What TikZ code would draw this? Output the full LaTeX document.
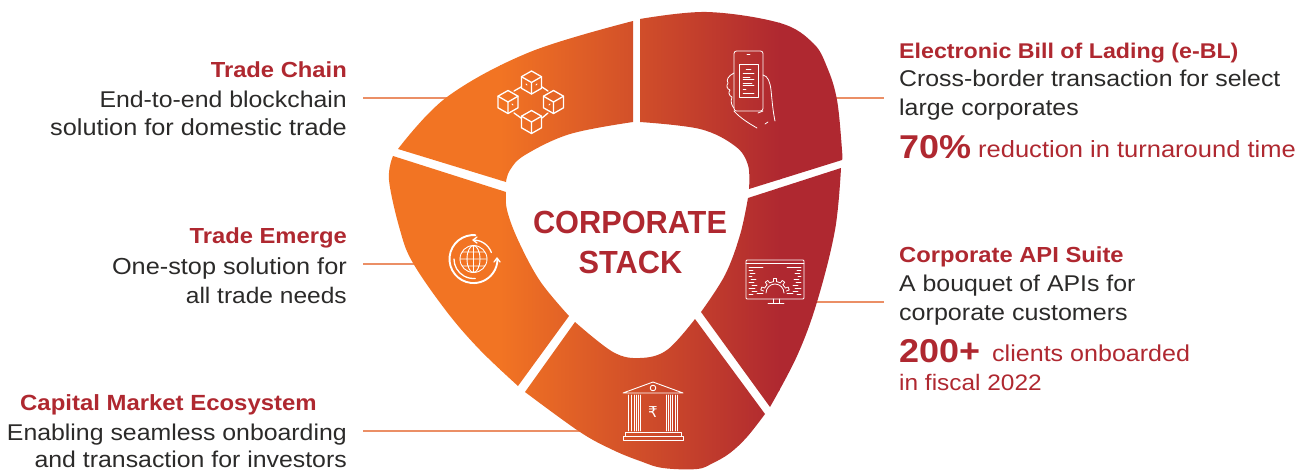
\documentclass[tikz,border=0pt]{standalone}
\usepackage{fontspec}
\setmainfont[FakeStretch=1.09]{Liberation Sans}
\newfontfamily\centrefont[FakeStretch=0.96]{Liberation Sans}
\newfontfamily\symfont{DejaVu Sans}
\definecolor{segorange}{HTML}{F27423}
\definecolor{segred}{HTML}{AF2830}
\definecolor{leader}{HTML}{EB8F66}
\definecolor{bodyink}{HTML}{2B2A29}
\tikzset{
  leaderline/.style={draw=leader,line width=1.4pt},
  head/.style={text=segred,font=\fontsize{21.8}{22}\selectfont\bfseries,inner sep=0pt},
  body/.style={text=bodyink,font=\fontsize{22.8}{23}\selectfont,inner sep=0pt},
  stat/.style={text=segred,font=\fontsize{33}{33}\selectfont\bfseries,inner sep=0pt},
  note/.style={text=segred,font=\fontsize{23}{23}\selectfont,inner sep=0pt},
  centretext/.style={text=segred,font=\centrefont\fontsize{32}{32}\selectfont\bfseries,inner sep=0pt},
  icon/.style={draw=white,line width=1.3pt,line cap=round,line join=round},
  iconthin/.style={draw=white,line width=.8pt,line cap=round,line join=round},
  curve/.style={smooth,tension=.6}
}
\begin{document}
\begin{tikzpicture}[x=1pt,y=-1pt]
\useasboundingbox (0,0) rectangle (1304,469);
% leader lines
\coordinate (l1a) at (363,98); \coordinate (l1b) at (450,98);
\coordinate (l2a) at (363,264); \coordinate (l2b) at (420,264);
\coordinate (l3a) at (363,431); \coordinate (l3b) at (590,431);
\coordinate (r1a) at (830,98); \coordinate (r1b) at (884,98);
\coordinate (r2a) at (810,302); \coordinate (r2b) at (884,302);
\foreach \p/\q in {l1a/l1b,l2a/l2b,l3a/l3b,r1a/r1b,r2a/r2b} \draw[leaderline] (\p) -- (\q);
% segments
\begin{scope}
\clip
 % trade chain
 plot[curve] coordinates {(398,149) (447,97) (530,52) (633,21)} -- plot[curve] coordinates {(633,122) (570,134) (525,155) (510,170) (506,182)} -- cycle
 % e-BL
 plot[curve] coordinates {(640,19) (707,12) (780,23) (813,43) (827,67) (837,100) (842,150) (842,160)} -- plot[curve] coordinates {(749,189) (748,165) (735,146) (700,129) (640,122)} -- cycle
 % API
 plot[curve] coordinates {(841,168) (835,230) (817,302) (797,356) (770,407)} -- plot[curve] coordinates {(701,312) (725,275) (740,235) (748,198)} -- cycle
 % bank
 plot[curve] coordinates {(765,414) (747,437) (730,453) (713,463) (697,469) (663,468) (640,461) (613,450) (580,432) (525,392)} -- plot[curve] coordinates {(575,322) (613,352) (640,358) (667,350) (695,319)} -- cycle
 % emerge
 plot[curve] coordinates {(393,156) (389,180) (400,230) (413,263) (447,312) (480,350) (518,386)} -- plot[curve] coordinates {(569,316) (540,281) (518,240) (507,210) (506,192)} -- cycle;
\fill[segorange] (380,0) rectangle (501,469);
\shade[left color=segorange,right color=segred] (500,0) rectangle (780,469);
\fill[segred] (779,0) rectangle (850,469);
\end{scope}
% blockchain icon
\foreach \n/\cx/\cy in {a/531.5/82.5,b/508/102,c/553.5/102,d/531.5/122}{
  \coordinate (\n) at (\cx,\cy);
  \draw[icon] (\cx,\cy-11.5) -- ++(10,5.7) -- ++(0,11.6) -- ++(-10,5.7) -- ++(-10,-5.7) -- ++(0,-11.6) -- cycle;
  \draw[icon] (\cx-10,\cy-5.8) -- (\cx,\cy) -- (\cx+10,\cy-5.8) (\cx,\cy) -- (\cx,\cy+11.5);
}
\draw[icon] (514,91) -- (521,87) (542,87) -- (548,91) (514,113) -- (521,118) (542,118) -- (548,113);
\draw[icon,line width=1pt] (527,85) -- (526,84) (536,85) -- (537,84) (513,105) -- (512,104) (549,105) -- (550,104);
% phone icon
\draw[iconthin,rounded corners=2.5pt] (734,51) rectangle (763,111);
\draw[iconthin] (739,64) rectangle (758,97);
\draw[iconthin] (747,54) -- (750,54);
\foreach \yy/\xa/\xb in {69/746/751,73/743/754,77/743/750,79/743/754,83/743/752,85/743/754,89/743/746,93/743/754}
  \draw[iconthin,line width=.5pt] (\xa,\yy) -- (\xb,\yy);
\draw[iconthin] (734,73) .. controls (728,76) and (726,80) .. (728,83) .. controls (726,86) and (727,89) .. (730,90) .. controls (728,92) and (729,96) .. (732,97) .. controls (730,102) and (732,106) .. (734,108);
\draw[iconthin] (734,111) .. controls (740,118) and (750,124) .. (757,128);
\draw[iconthin] (763,75) .. controls (768,76) and (770,82) .. (771,90) .. controls (772,100) and (773,112) .. (775,121);
\draw[iconthin] (763,111) -- (758,113) (765,124) -- (768,122);
% monitor icon
\draw[iconthin,rounded corners=1pt] (746,260) rectangle (804,299);
\draw[iconthin] (746,263.5) -- (804,263.5);
\draw[iconthin] (773,299) -- (773,303) (779,299) -- (779,303) (768,303) -- (784,303);
\foreach \yy/\xa/\xb in {267/749/763,270/749/753,273/750/755,276/749/752,279/751/756,282/749/754,285/752/757,288/749/755,291/752/757,294/749/753}
  \draw[iconthin,line width=.6pt] (\xa,\yy) -- (\xb,\yy);
\foreach \yy/\xa/\xb in {267/787/801,270/797/801,273/795/800,276/798/801,279/794/799,282/796/801,285/793/798,288/795/801,291/793/798,294/797/801}
  \draw[iconthin,line width=.6pt] (\xa,\yy) -- (\xb,\yy);
\begin{scope}[shift={(775,293)}]
\foreach \a in {-162,-126,-90,-54,-18}
  \draw[iconthin] (\a-8:11.5) -- (\a-6:14.5) -- (\a+6:14.5) -- (\a+8:11.5);
\foreach \a in {-154,-118,-82,-46}
  \draw[iconthin] (\a:11.5) -- (\a+20:11.5);
\draw[iconthin] (-9,0) arc[start angle=-180,end angle=0,radius=9];
\draw[iconthin] (-18,0) -- (-12,0) (12,0) -- (18,0);
\end{scope}
% globe icon
\coordinate (gl) at (473.5,259);
\draw[draw=white,line width=1.9pt] (476,235.2) arc[start angle=-84,end angle=-360,radius=24];
\draw[icon] (473.5,240) arc[start angle=-90,end angle=-20,radius=19];
\draw[icon] (454,259) arc[start angle=-180,end angle=-275,radius=19.5];
\draw[icon] (494,262) -- (497,258) -- (500,262) (477,237) -- (473,240) -- (477,243);
\draw[iconthin,line width=.9pt] (gl) circle[radius=13.5];
\draw[iconthin,line width=.9pt] (gl) ellipse[x radius=6.5,y radius=13.5] (460,259) -- (487,259) (473.5,245.5) -- (473.5,272.5) (462,252) -- (485,252) (462,266) -- (485,266);
% bank icon
\draw[iconthin,line width=.9pt] (623,393) -- (653,382) -- (683,393) -- cycle;
\draw[iconthin,line width=.9pt] (653,388) circle[radius=2.8];
\foreach \xx in {628.5,631.5,634.5,636.5,638.5,640.5,666.5,668.5,670.5,672.5,675,677.5}
  \draw[iconthin,line width=.7pt] (\xx,395) -- (\xx,431);
\draw[iconthin,line width=.9pt] (625,436) -- (625,432) -- (681,432) -- (681,436);
\draw[iconthin,line width=.9pt] (623,436) rectangle (683,440.5);
\node[text=white,font=\symfont\fontsize{15}{15}\selectfont,inner sep=0pt] (rupee) at (653,412) {₹};
% centre
\node[centretext,anchor=base] (c1) at (630,233) {CORPORATE};
\node[centretext,anchor=base] (c2) at (630.5,273) {STACK};
% left text
\node[head,anchor=base east] (t1) at (347,77) {Trade Chain};
\node[body,anchor=base east] (t2) at (347,107) {End-to-end blockchain};
\node[body,anchor=base east,font=\fontsize{23.2}{23}\selectfont] (t3) at (347,135) {solution for domestic trade};
\node[head,anchor=base east] (t4) at (347,243) {Trade Emerge};
\node[body,anchor=base east,font=\fontsize{23.2}{23}\selectfont] (t5) at (347,274) {One-stop solution for};
\node[body,anchor=base east,font=\fontsize{22.5}{23}\selectfont] (t6) at (347,303) {all trade needs};
\node[head,anchor=base west,font=\fontsize{21.95}{22}\selectfont\bfseries] (t7) at (20,410) {Capital Market Ecosystem};
\node[body,anchor=base east] (t8) at (347,440) {Enabling seamless onboarding};
\node[body,anchor=base east] (t9) at (347,467.5) {and transaction for investors};
% right text
\node[head,anchor=base west,font=\fontsize{21.3}{22}\selectfont\bfseries] (r1) at (899,58) {Electronic Bill of Lading (e-BL)};
\node[body,anchor=base west] (r2) at (899,86) {Cross-border transaction for select};
\node[body,anchor=base west] (r3) at (899,115) {large corporates};
\node[stat,anchor=base west] (r4) at (899,158) {70\%};
\node[note,anchor=base west,font=\fontsize{23.4}{23}\selectfont] (r5) at (978,157) {reduction in turnaround time};
\node[head,anchor=base west] (r6) at (899,262) {Corporate API Suite};
\node[body,anchor=base west] (r7) at (899,291) {A bouquet of APIs for};
\node[body,anchor=base west,font=\fontsize{23}{23}\selectfont] (r8) at (899,320) {corporate customers};
\node[stat,anchor=base west] (r9) at (899,362) {200+};
\node[note,anchor=base west] (r10) at (992,361) {clients onboarded};
\node[note,anchor=base west,font=\fontsize{22.4}{23}\selectfont] (r11) at (899,390) {in fiscal 2022};
\end{tikzpicture}
\end{document}
